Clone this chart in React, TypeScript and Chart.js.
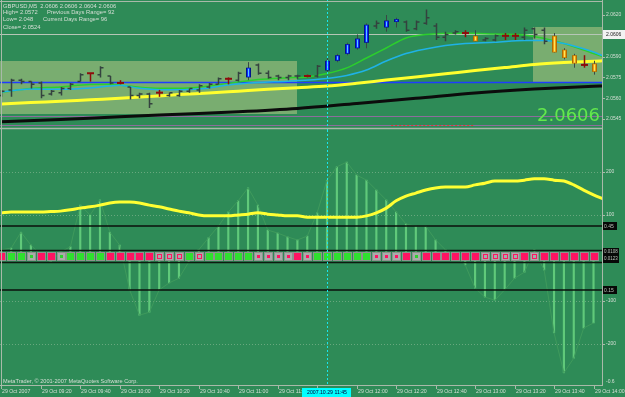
import React, { useEffect, useRef } from 'react';
import { Chart, registerables } from 'chart.js';

Chart.register(...registerables);

const FONT = '"Liberation Sans", Arial, sans-serif';
const BG = '#2e8b57';
const TEXT = '#d6dfd6';
const FRAME = '#a9b9a9';

// ---------- time axis ----------
const X_MIN = -0.13;
const X_MAX = 60.86;
const CROSS_INDEX = 33;
const CROSS_LABEL = '2007.10.29 11:45';
const TIME_TICK_INDEX = [0, 4, 8, 12, 16, 20, 24, 28, 32, 36, 40, 44, 48, 52, 56, 60];
const TIME_TICK_LABELS = [
  '29 Oct 2007', '29 Oct 09:20', '29 Oct 09:40', '29 Oct 10:00', '29 Oct 10:20',
  '29 Oct 10:40', '29 Oct 11:00', '29 Oct 11:20', '29 Oct 11:40', '29 Oct 12:00',
  '29 Oct 12:20', '29 Oct 12:40', '29 Oct 13:00', '29 Oct 13:20', '29 Oct 13:40', '29 Oct 14:00',
];

// ---------- price panel ----------
const PRICE_MIN = 2.05378;
const PRICE_MAX = 2.06301;
const PRICE_TICKS = [2.062, 2.0605, 2.059, 2.0575, 2.056, 2.0545];
const LAST_PRICE = 2.0606;
const LAST_PRICE_TEXT = '2.0606';
const PREV_HIGH = 2.0572;
const LOW_LINES = [2.0547, 2.0541];
const RED_SEG = [39.5, 48, 2.0541];
const HEADER = [
  ['GBPUSD,M5  2.0606 2.0606 2.0604 2.0606', 3, 6],
  ['High= 2.0572', 3, 12.7],
  ['Previous Days Range= 92', 47, 12.7],
  ['Low= 2.048', 3, 19.3],
  ['Current Days Range= 96', 43, 19.3],
  ['Close= 2.0524', 3, 27.3],
];

const OPEN = [2.0562, 2.0566, 2.0573, 2.0572, 2.0571, 2.0563, 2.0564, 2.0567, 2.0572, 2.0578,
  2.0577, 2.0576, 2.0571, 2.0568, 2.0562, 2.0563, 2.0564, 2.0562, 2.0562, 2.0565,
  2.0566, 2.0568, 2.0570, 2.0574, 2.0573, 2.0575, 2.0584, 2.0578, 2.0576, 2.0575,
  2.0576, 2.0576, 2.0576, 2.0580, 2.0587, 2.0592, 2.0596, 2.0600, 2.0612, 2.0611,
  2.0615, 2.0615, 2.0610, 2.0614, 2.0612, 2.0604, 2.0607, 2.0607, 2.0605, 2.0602,
  2.0602, 2.0605, 2.0605, 2.0604, 2.0610, 2.0609, 2.0605, 2.0595, 2.0591, 2.0584, 2.0585];
const HIGH = [2.0566, 2.0574, 2.0574, 2.0572, 2.0572, 2.0566, 2.0568, 2.0571, 2.0578, 2.0578,
  2.0583, 2.0576, 2.0573, 2.0568, 2.0564, 2.0564, 2.0566, 2.0564, 2.0566, 2.0567,
  2.0570, 2.0571, 2.0575, 2.0575, 2.0579, 2.0586, 2.0585, 2.0580, 2.0577, 2.0577,
  2.0577, 2.0577, 2.0584, 2.0589, 2.0592, 2.0600, 2.0606, 2.0614, 2.0616, 2.0620,
  2.0618, 2.0616, 2.0616, 2.0624, 2.0614, 2.0608, 2.0609, 2.0609, 2.0609, 2.0604,
  2.0606, 2.0607, 2.0607, 2.0611, 2.0611, 2.0611, 2.0607, 2.0596, 2.0592, 2.0591, 2.0587];
const LOW = [2.0561, 2.0561, 2.0570, 2.0567, 2.0560, 2.0562, 2.0562, 2.0566, 2.0572, 2.0572,
  2.0575, 2.0570, 2.0570, 2.0559, 2.0560, 2.0553, 2.0561, 2.0561, 2.0561, 2.0564,
  2.0564, 2.0567, 2.0570, 2.0570, 2.0572, 2.0573, 2.0577, 2.0574, 2.0573, 2.0573,
  2.0574, 2.0575, 2.0575, 2.0579, 2.0586, 2.0591, 2.0595, 2.0596, 2.0610, 2.0608,
  2.0611, 2.0608, 2.0609, 2.0613, 2.0602, 2.0601, 2.0606, 2.0604, 2.0601, 2.0601,
  2.0601, 2.0602, 2.0602, 2.0602, 2.0603, 2.0599, 2.0593, 2.0588, 2.0582, 2.0582, 2.0577];
const CLOSE = [2.0565, 2.0573, 2.0572, 2.0570, 2.0562, 2.0565, 2.0567, 2.0570, 2.0577, 2.0578,
  2.0582, 2.0571, 2.0571, 2.0562, 2.0563, 2.0556, 2.0564, 2.0564, 2.0565, 2.0567,
  2.0569, 2.0570, 2.0574, 2.0574, 2.0578, 2.0582, 2.0578, 2.0575, 2.0575, 2.0576,
  2.0576, 2.0576, 2.0583, 2.0587, 2.0591, 2.0599, 2.0603, 2.0613, 2.0614, 2.0616,
  2.0617, 2.0609, 2.0615, 2.0618, 2.0604, 2.0606, 2.0608, 2.0607, 2.0601, 2.0603,
  2.0605, 2.0605, 2.0605, 2.0609, 2.0606, 2.0601, 2.0593, 2.0589, 2.0585, 2.0584, 2.0579];
// o = bar, x = doji cross, u = blue up candle, d = orange down candle
const CANDLE_KIND = ['ooooooooo', 'x', 'oo', 'x', 'ooo', 'x', 'oooooo', 'x', 'o', 'u', 'ooooo', 'x', 'o',
  'uuuuu', 'o', 'uu', 'oooooo', 'x', 'd', 'oo', 'xx', 'ooo', 'ddd', 'x', 'd'].join('').split('');

const BOX_X0 = [-0.13, 53.9];
const BOX_X1 = [29.95, 60.86];
const BOX_TOP = [2.0587, 2.0611];
const BOX_BOTTOM = [2.0549, 2.0571];

const MA_YELLOW = [[0, 2.05558], [3, 2.05569], [6, 2.05578], [9, 2.05589], [12, 2.05599], [15, 2.05612],
  [18, 2.05626], [21, 2.05638], [24, 2.05651], [27, 2.05664], [30, 2.05676], [33, 2.05688], [36, 2.05708],
  [39, 2.05731], [42, 2.05753], [45, 2.05776], [48, 2.058], [51, 2.05821], [54, 2.05843], [57, 2.05857],
  [60, 2.05867], [61, 2.0587]];
const MA_BLACK = [[0, 2.05431], [6, 2.05446], [12, 2.05466], [18, 2.05484], [24, 2.05502], [30, 2.05526],
  [36, 2.05562], [42, 2.05599], [48, 2.05638], [54, 2.05666], [60, 2.05686], [61, 2.05688]];
const MA_GREEN = [[0, 2.05643], [3, 2.0567], [6, 2.05681], [9, 2.05699], [11, 2.057], [12, 2.05695],
  [14, 2.05679], [16, 2.05671], [18, 2.05671], [20, 2.05679], [23, 2.05707], [26, 2.05735], [29, 2.05747],
  [31, 2.05753], [33, 2.05778], [35, 2.05819], [37, 2.0589], [39, 2.05962], [41, 2.06034], [43, 2.06059],
  [47, 2.06068], [50, 2.06063], [53, 2.06056], [55, 2.0603], [57, 2.05994], [59, 2.05948], [60, 2.05922],
  [61, 2.05897]];
const MA_CYAN = [[0, 2.05645], [3, 2.05666], [6, 2.05664], [9, 2.05674], [11, 2.05688], [12, 2.05694],
  [14, 2.05671], [16, 2.05661], [18, 2.05661], [20, 2.05666], [23, 2.05695], [26, 2.05713], [29, 2.05723],
  [33, 2.05743], [35, 2.05764], [37, 2.05803], [39, 2.05868], [41, 2.05922], [43, 2.05955], [45, 2.0598],
  [47, 2.05994], [50, 2.06003], [53, 2.06016], [55, 2.06016], [57, 2.05994], [59, 2.05956], [60, 2.05933],
  [61, 2.05904]];

// ---------- oscillator panel ----------
const OSC_MIN = -293;
const OSC_MAX = 293;
const OSC_TICKS = [200, 100, -100, -200];
const CCI = [19, 23, 60, 30, 7, -9, 14, 26, 123, 100, 135, 60, 30, -74, -133, -126, -74, -58, -47, -9,
  19, 47, 74, 107, 133, 163, 123, 65, 58, 49, 42, 51, 105, 181, 212, 223, 193, 181, 158, 135,
  107, 79, 74, 74, 42, 19, 5, -16, -70, -91, -98, -74, -47, -33, 19, -28, -174, -267, -233, -163, -151];
const CCI_SMOOTH = [105, 107, 107, 107, 107, 108, 109, 112, 116, 119, 123, 128, 130, 130, 128, 123, 119, 114,
  109, 105, 100, 98, 98, 98, 100, 102, 105, 102, 100, 98, 98, 95, 95, 95, 95, 95, 95, 98, 105, 116, 133,
  144, 151, 158, 163, 165, 165, 165, 170, 174, 179, 179, 179, 181, 184, 184, 181, 179, 170, 158, 147, 137];
// G green, R red, g grey+green dot, r grey+red dot, h grey+red hollow
const SIGNAL = ['RGGgRRgGGGG', 'RRRRR', 'hhh', 'G', 'h', 'GGGGG', 'rrrr', 'R', 'r', 'GGGGGG', 'rrr', 'R', 'g',
  'RRRRRR', 'hhhh', 'R', 'h', 'RRRRRR'].join('').split('');
const LEVELS = [74.4, -74.4];
const LEVEL_LABELS = ['0.45', '0.15'];
const SIDE_VALUES = ['0.0108', '0.0123'];
const BOTTOM_LABEL = '-0.6';
const COPYRIGHT = 'MetaTrader, \u00a9 2001-2007 MetaQuotes Software Corp.';

const pts = (arr) => arr.map(([i, v]) => ({ x: i, y: v }));
const idxPts = (arr) => arr.map((v, i) => ({ x: i, y: v }));

function hLine(ctx, x0, x1, y, color, w, dash = []) {
  ctx.beginPath();
  ctx.setLineDash(dash);
  ctx.strokeStyle = color;
  ctx.lineWidth = w;
  ctx.moveTo(x0, y);
  ctx.lineTo(x1, y);
  ctx.stroke();
  ctx.setLineDash([]);
}
function vLine(ctx, x, y0, y1, color, w, dash = []) {
  ctx.beginPath();
  ctx.setLineDash(dash);
  ctx.strokeStyle = color;
  ctx.lineWidth = w;
  ctx.moveTo(x, y0);
  ctx.lineTo(x, y1);
  ctx.stroke();
  ctx.setLineDash([]);
}
const crisp = (v) => Math.round(v) + 0.5;

const topPlugin = {
  id: 'topPanel',
  beforeDraw(chart) {
    const { ctx, width, height, chartArea: a, scales } = chart;
    const x = scales.x, y = scales.y;
    ctx.save();
    ctx.fillStyle = BG;
    ctx.fillRect(0, 0, width, height);
    ctx.fillStyle = '#79ad70';
    for (let k = 0; k < BOX_X0.length; k++) {
      const x0 = Math.max(a.left, x.getPixelForValue(BOX_X0[k]));
      const x1 = Math.min(a.right, x.getPixelForValue(BOX_X1[k]));
      const y0 = y.getPixelForValue(BOX_TOP[k]);
      const y1 = y.getPixelForValue(BOX_BOTTOM[k]);
      ctx.fillRect(Math.round(x0), Math.round(y0), Math.round(x1 - x0), Math.round(y1 - y0));
    }
    hLine(ctx, a.left, a.right, crisp(y.getPixelForValue(LAST_PRICE)), '#b6c6b6', 1);
    hLine(ctx, a.left, a.right, crisp(y.getPixelForValue(PREV_HIGH)), '#1f3cff', 1.5);
    LOW_LINES.forEach((p) => hLine(ctx, a.left, a.right, crisp(y.getPixelForValue(p)), '#8c6d9c', 1));
    hLine(ctx, x.getPixelForValue(RED_SEG[0]), x.getPixelForValue(RED_SEG[1]),
      crisp(y.getPixelForValue(RED_SEG[2])), '#e03a3a', 1, [2, 2]);
    ctx.restore();
  },
  afterDatasetsDraw(chart) {
    const { ctx, width, height, chartArea: a, scales } = chart;
    const x = scales.x, y = scales.y;
    ctx.save();
    ctx.beginPath();
    ctx.rect(a.left, a.top, a.right - a.left, a.bottom - a.top);
    ctx.clip();
    for (let i = 0; i < OPEN.length; i++) {
      const xr = Math.round(x.getPixelForValue(i));
      const cx = xr + 0.5;
      const yo = y.getPixelForValue(OPEN[i]);
      const yh = y.getPixelForValue(HIGH[i]);
      const yl = y.getPixelForValue(LOW[i]);
      const yc = y.getPixelForValue(CLOSE[i]);
      const k = CANDLE_KIND[i];
      if (k === 'o') {
        ctx.strokeStyle = '#34423f';
        ctx.lineWidth = 1.5;
        ctx.beginPath();
        ctx.moveTo(cx, yh); ctx.lineTo(cx, yl);
        ctx.moveTo(cx - 3, yo); ctx.lineTo(cx, yo);
        ctx.moveTo(cx, yc); ctx.lineTo(cx + 3, yc);
        ctx.stroke();
      } else if (k === 'x') {
        vLine(ctx, cx, yh, yl, '#8e0c0c', 1.5);
        hLine(ctx, cx - 3.5, cx + 3.5, yo, '#8e0c0c', 2);
      } else {
        const up = k === 'u';
        vLine(ctx, cx, yh, yl, '#3a4646', 1);
        const top = Math.min(yo, yc);
        const h = Math.max(2, Math.abs(yo - yc));
        ctx.fillStyle = up ? '#00128c' : '#b06a00';
        ctx.fillRect(xr - 2, top, 5, h);
        ctx.fillStyle = up ? '#0a2cff' : '#eda014';
        ctx.fillRect(xr - 1, top + 0.5, 3, h - 1);
        ctx.fillStyle = up ? '#5fc8ff' : '#ffe65a';
        ctx.fillRect(xr, top + 1, 1, Math.max(0, h - 2));
      }
    }
    ctx.restore();

    ctx.save();
    vLine(ctx, crisp(x.getPixelForValue(CROSS_INDEX)), 0, height, '#18e6ee', 1, [2, 2]);
    hLine(ctx, 0, a.right, 1.5, FRAME, 1);
    hLine(ctx, 0, a.right, 128.5, FRAME, 1.5);
    vLine(ctx, 1.5, 0, height, FRAME, 1);
    vLine(ctx, crisp(a.right), 0, height, FRAME, 1);
    ctx.font = '5px ' + FONT;
    ctx.textBaseline = 'middle';
    ctx.textAlign = 'left';
    PRICE_TICKS.forEach((p) => {
      const py = y.getPixelForValue(p);
      hLine(ctx, a.right, a.right + 3, crisp(py), FRAME, 1);
      ctx.fillStyle = TEXT;
      ctx.fillText(p.toFixed(4), a.right + 4, py);
    });
    const lp = y.getPixelForValue(LAST_PRICE);
    ctx.fillStyle = '#f2f2f2';
    ctx.fillRect(a.right + 1, Math.round(lp) - 4, width - a.right - 1, 9);
    ctx.fillStyle = '#202020';
    ctx.fillText(LAST_PRICE_TEXT, a.right + 4, Math.round(lp) + 0.5);
    ctx.font = '5.8px ' + FONT;
    ctx.fillStyle = TEXT;
    HEADER.forEach(([t, tx, ty]) => ctx.fillText(t, tx, ty));
    ctx.font = '18px "DejaVu Sans", sans-serif';
    ctx.textAlign = 'right';
    ctx.textBaseline = 'alphabetic';
    ctx.fillStyle = '#63e84c';
    ctx.fillText(LAST_PRICE_TEXT, a.right - 2, 120.5);
    ctx.restore();
  },
};

const bottomPlugin = {
  id: 'bottomPanel',
  beforeDraw(chart) {
    const { ctx, width, height, chartArea: a, scales } = chart;
    const y = scales.y;
    ctx.save();
    ctx.fillStyle = BG;
    ctx.fillRect(0, 0, width, height);
    OSC_TICKS.forEach((v) => hLine(ctx, a.left, a.right, crisp(y.getPixelForValue(v)), 'rgba(175,205,175,0.45)', 1, [1, 2]));
    ctx.restore();
  },
  afterDatasetsDraw(chart) {
    const { ctx, width, height, chartArea: a, scales } = chart;
    const x = scales.x, y = scales.y;
    ctx.save();
    LEVELS.forEach((v) => hLine(ctx, a.left, a.right, y.getPixelForValue(v), '#0b0f0b', 1.5));
    const zy = Math.round(y.getPixelForValue(0));
    hLine(ctx, a.left, a.right, zy - 7.5, '#0e1a10', 1.5);
    hLine(ctx, a.left, a.right, zy + 4.5, '#0e1a10', 1.5);
    ctx.beginPath();
    ctx.rect(a.left, a.top, a.right - a.left, a.bottom - a.top);
    ctx.clip();
    for (let i = 0; i < SIGNAL.length; i++) {
      const xr = Math.round(x.getPixelForValue(i));
      const s = SIGNAL[i];
      const sx = xr - 4, sy = zy - 6;
      ctx.fillStyle = '#8e938e';
      ctx.fillRect(sx, sy, 9, 9);
      ctx.fillStyle = '#a9aca9';
      ctx.fillRect(sx + 1, sy + 1, 7, 7);
      if (s === 'G' || s === 'R') {
        ctx.fillStyle = s === 'G' ? '#2fe02f' : '#ff1462';
        ctx.fillRect(sx + 1, sy + 1, 7, 7);
      } else if (s === 'g' || s === 'r') {
        ctx.fillStyle = s === 'g' ? '#2fd02f' : '#ff1462';
        ctx.fillRect(sx + 3, sy + 3, 3, 3);
      } else if (s === 'h') {
        ctx.strokeStyle = '#ff1462';
        ctx.lineWidth = 1;
        ctx.strokeRect(sx + 2.5, sy + 2.5, 4, 4);
      }
    }
    ctx.restore();

    ctx.save();
    vLine(ctx, crisp(x.getPixelForValue(CROSS_INDEX)), 0, a.bottom + 2, '#18e6ee', 1, [2, 2]);
    hLine(ctx, 0, a.right, a.bottom + 1.5, FRAME, 1);
    vLine(ctx, 1.5, 0, a.bottom + 2, FRAME, 1);
    vLine(ctx, crisp(a.right), 0, a.bottom + 2, FRAME, 1);
    ctx.font = '5px ' + FONT;
    ctx.textBaseline = 'middle';
    ctx.textAlign = 'left';
    OSC_TICKS.forEach((v) => {
      const py = y.getPixelForValue(v);
      hLine(ctx, a.right, a.right + 3, crisp(py), FRAME, 1);
      ctx.fillStyle = TEXT;
      ctx.fillText(String(v), a.right + 4, py);
    });
    LEVELS.forEach((v, k) => {
      const py = Math.round(y.getPixelForValue(v));
      ctx.fillStyle = '#070907';
      ctx.fillRect(a.right + 1, py - 4, 14, 8);
      ctx.fillStyle = '#b9c2b9';
      ctx.fillText(LEVEL_LABELS[k], a.right + 2, py + 0.5);
    });
    ctx.fillStyle = '#070907';
    ctx.fillRect(a.right + 1, zy - 10, 16, 15);
    ctx.font = '4.5px ' + FONT;
    ctx.fillStyle = '#b9c2b9';
    ctx.fillText(SIDE_VALUES[0], a.right + 2, zy - 6);
    ctx.fillText(SIDE_VALUES[1], a.right + 2, zy + 1);
    ctx.font = '5px ' + FONT;
    ctx.fillStyle = TEXT;
    ctx.fillText(BOTTOM_LABEL, a.right + 4, a.bottom - 2);
    ctx.font = '5.6px ' + FONT;
    ctx.fillText(COPYRIGHT, 3, a.bottom - 2.5);
    ctx.font = '5.2px ' + FONT;
    TIME_TICK_INDEX.forEach((ti, k) => {
      const px = crisp(x.getPixelForValue(ti));
      vLine(ctx, px, a.bottom + 2, a.bottom + 5, FRAME, 1);
      ctx.fillStyle = TEXT;
      ctx.fillText(TIME_TICK_LABELS[k], px + 0.5, a.bottom + 8);
    });
    const cx = x.getPixelForValue(CROSS_INDEX);
    ctx.fillStyle = '#00ffff';
    ctx.fillRect(Math.round(cx) - 25, a.bottom + 4, 49, 9);
    ctx.fillStyle = '#00003a';
    ctx.textAlign = 'center';
    ctx.fillText(CROSS_LABEL, Math.round(cx), a.bottom + 8.5);
    ctx.restore();
  },
};

function topConfig() {
  const line = (data, color, w) => ({
    type: 'line', data: pts(data), borderColor: color, borderWidth: w,
    pointRadius: 0, cubicInterpolationMode: 'monotone', fill: false,
  });
  return {
    type: 'line',
    data: {
      datasets: [
        line(MA_BLACK, '#0c0c0c', 3),
        line(MA_YELLOW, '#ffff2e', 3),
        line(MA_CYAN, '#1fb2e6', 1.5),
        line(MA_GREEN, '#2ccf2c', 1.5),
      ],
    },
    options: {
      responsive: false,
      animation: false,
      devicePixelRatio: 1,
      events: [],
      layout: { padding: { left: 0, right: 23, top: 1, bottom: 1 } },
      plugins: { legend: { display: false }, tooltip: { enabled: false } },
      scales: {
        x: { type: 'linear', min: X_MIN, max: X_MAX, display: false },
        y: { type: 'linear', min: PRICE_MIN, max: PRICE_MAX, display: false },
      },
    },
    plugins: [topPlugin],
  };
}

function bottomConfig() {
  return {
    type: 'bar',
    data: {
      datasets: [
        { type: 'bar', data: idxPts(CCI), backgroundColor: 'rgba(104,212,128,0.85)', barThickness: 1.5, order: 3 },
        { type: 'line', data: idxPts(CCI), borderColor: '#3f9a5c', borderWidth: 1, pointRadius: 0, tension: 0, order: 2 },
        { type: 'line', data: idxPts(CCI_SMOOTH), borderColor: '#ffff33', borderWidth: 3, pointRadius: 0,
          cubicInterpolationMode: 'monotone', order: 1 },
      ],
    },
    options: {
      responsive: false,
      animation: false,
      devicePixelRatio: 1,
      events: [],
      layout: { padding: { left: 0, right: 23, top: 2, bottom: 13 } },
      plugins: { legend: { display: false }, tooltip: { enabled: false } },
      scales: {
        x: { type: 'linear', min: X_MIN, max: X_MAX, offset: false, display: false, grid: { offset: false } },
        y: { type: 'linear', min: OSC_MIN, max: OSC_MAX, display: false },
      },
    },
    plugins: [bottomPlugin],
  };
}

export default function App() {
  const topRef = useRef(null);
  const botRef = useRef(null);
  useEffect(() => {
    document.body.style.margin = '0';
    const c1 = new Chart(topRef.current, topConfig() as any);
    const c2 = new Chart(botRef.current, bottomConfig() as any);
    return () => {
      c1.destroy();
      c2.destroy();
    };
  }, []);
  return (
    <div style={{ position: 'relative', width: 625, height: 397, background: BG, overflow: 'hidden' }}>
      <canvas ref={topRef} width={625} height={130}
        style={{ position: 'absolute', left: 0, top: 0, width: 625, height: 130 }} />
      <canvas ref={botRef} width={625} height={267}
        style={{ position: 'absolute', left: 0, top: 130, width: 625, height: 267 }} />
    </div>
  );
}
